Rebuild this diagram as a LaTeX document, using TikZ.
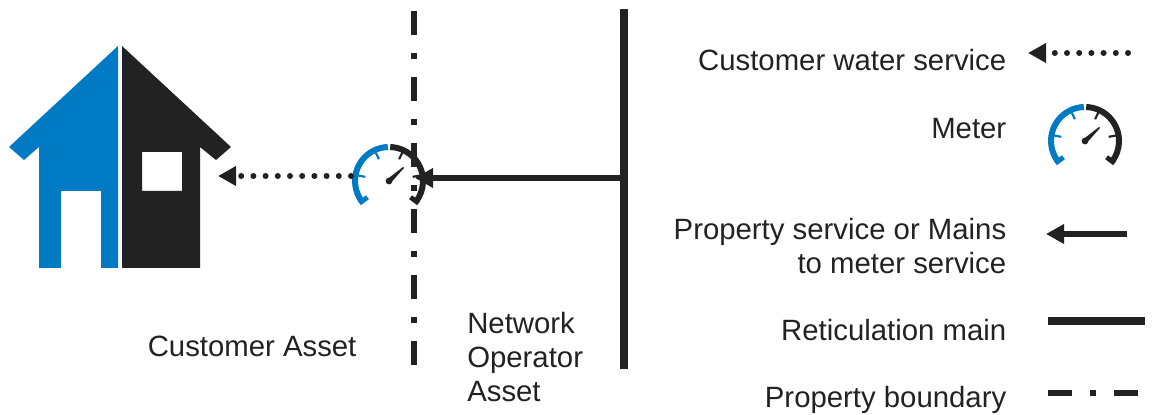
\documentclass[tikz,border=0pt]{standalone}
\usepackage{xcolor}
\usepackage{fontspec}
\setmainfont{Liberation Sans}
\usepackage{tikz}
\usetikzlibrary{arrows.meta}
\definecolor{ink}{HTML}{222222}
\definecolor{wablue}{HTML}{007AC3}
\tikzset{
  lab/.style={text=ink, font=\fontsize{22pt}{25.5pt}\selectfont, inner sep=0pt},
  labr/.style={lab, anchor=east, align=right},
  labl/.style={lab, anchor=west, align=left},
  house/.style={draw=none, even odd rule},
  boundary/.style={draw=ink, line width=4.5pt, dash pattern=on 18pt off 13.5pt on 4.5pt off 13.5pt},
  main/.style={draw=ink, line width=6pt},
  service/.style={draw=ink, line width=4.5pt, -{Triangle[length=13.5pt,width=14pt]}},
  water/.style={draw=ink, line width=4.5pt, line cap=round, dash pattern=on 0pt off 9.15pt, -{Triangle[length=13.5pt,width=14pt,sharp,line cap=butt]}},
  pics/meter/.style={code={
    \draw[wablue, line width=4.5pt] (92:34) arc[start angle=92,end angle=217,radius=34];
    \draw[ink, line width=4.5pt] (88:34) arc[start angle=88,end angle=-37,radius=34];
    \draw[wablue, line width=3.6pt] (217:37) -- (217:27);
    \draw[ink, line width=3.6pt] (-37:37) -- (-37:27);
    \foreach \a in {115,170} \draw[wablue, line width=1.6pt] (\a:33) -- (\a:24);
    \foreach \a in {10,65} \draw[ink, line width=1.6pt] (\a:33) -- (\a:24);
    \fill[ink] (0,0) circle (3.4);
    \fill[ink] (-1.8,1.8) -- (1.8,-1.8) -- (15,13) -- (14,14) -- cycle;
  }},
}
\begin{document}
\begin{tikzpicture}[x=0.75pt,y=0.75pt]
  \useasboundingbox (0,0) rectangle (1152,414);
  % house
  \fill[wablue,house] (118,368) -- (9,267) -- (24,254) -- (39,267) -- (39,146) -- (61,146) -- (61,223) -- (101,223) -- (101,146) -- (118,146) -- cycle;
  \fill[ink,house] (122,368) -- (231,267) -- (216,254) -- (200,267) -- (200,146) -- (122,146) -- cycle (142,262) rectangle (182,223);
  % boundary and main
  \coordinate (bndtop) at (413.7,403);
  \coordinate (bndbot) at (413.7,49);
  \coordinate (maintop) at (623.5,405);
  \coordinate (mainbot) at (623.5,45);
  \coordinate (maintee) at (623.5,236);
  \coordinate (meterin) at (415,236);
  \coordinate (meterout) at (351,238);
  \coordinate (housein) at (218,238);
  \draw[boundary] (bndtop) -- (bndbot);
  \draw[main] (maintop) -- (mainbot);
  \pic at (389,233) {meter};
  \draw[service] (maintee) -- (meterin);
  \draw[water] (meterout) -- (housein);
  % legend
  \coordinate (waterR) at (1128,361);
  \coordinate (waterL) at (1028,361);
  \coordinate (servR) at (1127,180);
  \coordinate (servL) at (1046,180);
  \coordinate (retL) at (1048,92.5);
  \coordinate (retR) at (1145,92.5);
  \coordinate (bndL) at (1048,21);
  \coordinate (bndR) at (1138,21);
  \draw[water] (waterR) -- (waterL);
  \pic at (1085,273) {meter};
  \draw[service] (servR) -- (servL);
  \draw[main] (retL) -- (retR);
  \draw[boundary] (bndL) -- (bndR);
  \node[labr] (txtwater) at (1006.5,354) {Customer water service};
  \node[labr] (txtmeter) at (1006.5,285) {Meter};
  \node[labr] (txtserv) at (1006.5,168) {Property service or Mains\\to meter service};
  \node[labr] (txtret) at (1006.5,84) {Reticulation main};
  \node[labr] (txtbnd) at (1006.5,14) {Property boundary};
  \node[labl] (txtcust) at (147.5,68) {Customer Asset};
  \node[labl] (txtnet) at (467,56.5) {Network\\Operator\\Asset};
\end{tikzpicture}
\end{document}
